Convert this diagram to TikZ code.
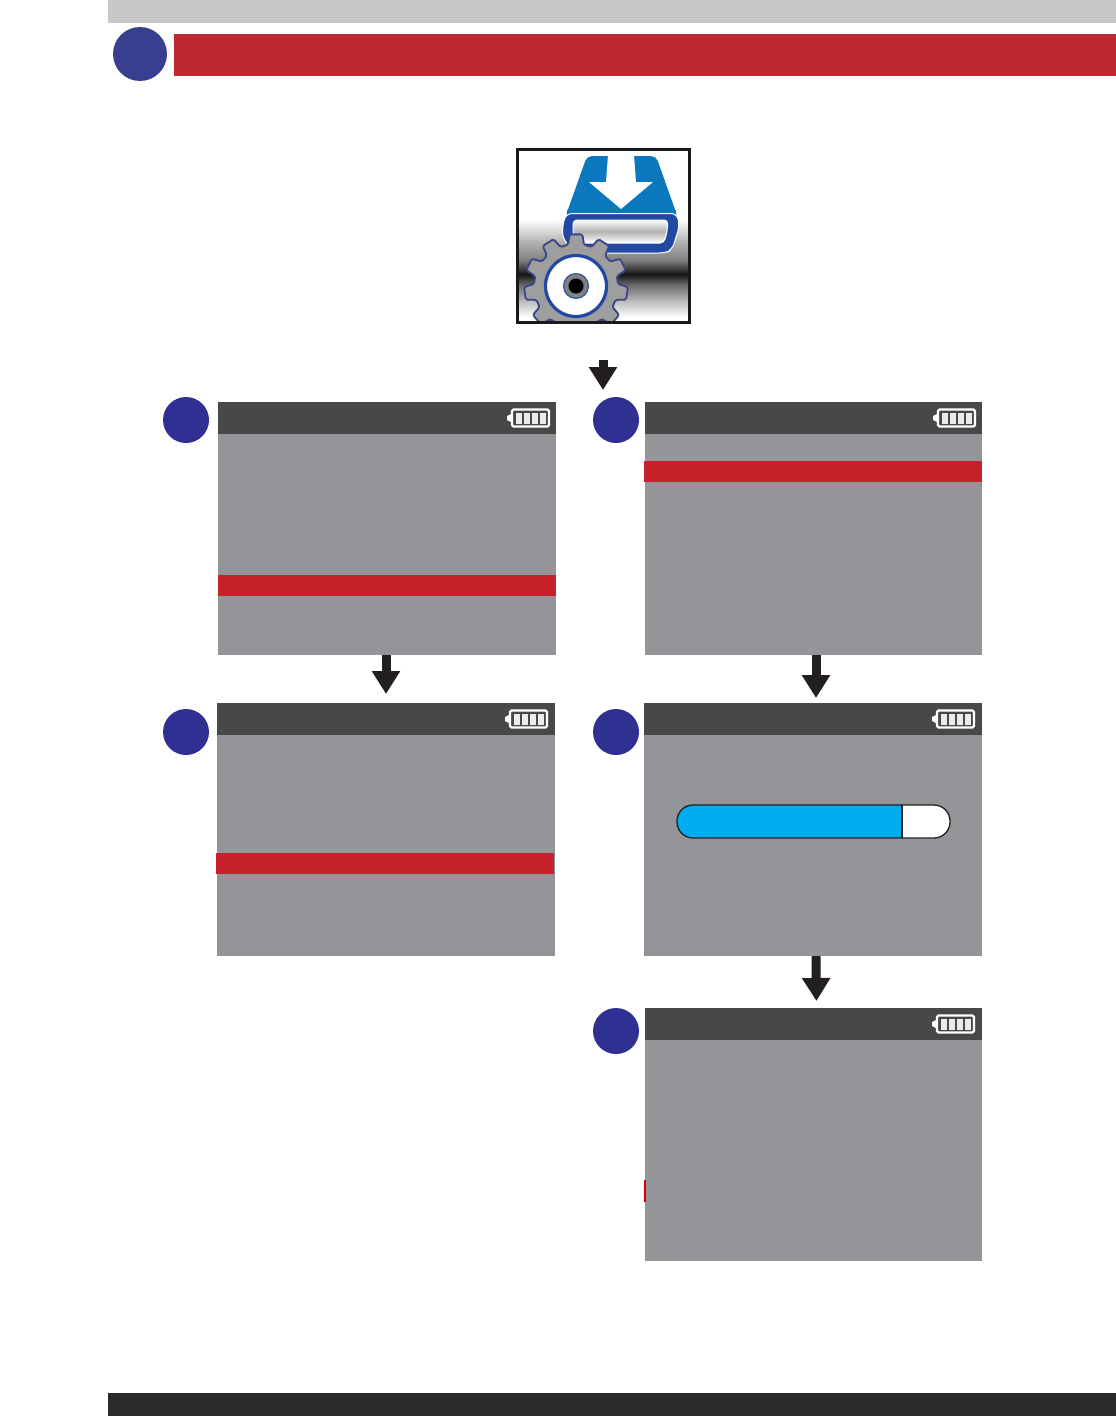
\documentclass[tikz,border=0pt]{standalone}
\usepackage{tikz}
\usetikzlibrary{arrows.meta,shadings}
\definecolor{pageGrey}{HTML}{C8C8C8}
\definecolor{titleRed}{HTML}{BD282E}
\definecolor{titleBlue}{HTML}{393F90}
\definecolor{stepBlue}{HTML}{2E3192}
\definecolor{footBlack}{HTML}{2A2A2B}
\definecolor{screenGrey}{HTML}{949599}
\definecolor{headGrey}{HTML}{474949}
\definecolor{rowRed}{HTML}{C7212C}
\definecolor{arrowBlack}{HTML}{231F20}
\definecolor{barBlue}{HTML}{00AEEF}
\definecolor{iconBlue}{HTML}{0B78BE}
\definecolor{trayBlue}{HTML}{2149A3}
\definecolor{gearEdge}{HTML}{3A4488}
\pgfdeclareradialshading{gearshade}{\pgfpointorigin}{color(0bp)=(black!38); color(30bp)=(black!38); color(50bp)=(black!10)}
\pgfdeclareradialshading{hubshade}{\pgfpointorigin}{color(0bp)=(white); color(22bp)=(white); color(50bp)=(black!40)}
\tikzset{
  screenbox/.style={anchor=north west, fill=screenGrey, minimum width=#1, minimum height=253pt, inner sep=0pt, outer sep=0pt},
  headbar/.style={anchor=north west, fill=headGrey, minimum width=#1, minimum height=32pt, inner sep=0pt, outer sep=0pt},
  rowbar/.style={anchor=north west, fill=rowRed, minimum width=#1, minimum height=21pt, inner sep=0pt, outer sep=0pt},
  stepdot/.style={circle, fill=stepBlue, minimum size=46pt, inner sep=0pt},
  flowarrow/.style={arrowBlack, line width=9pt, -{Triangle[width=27pt,length=23pt]}},
  battery/.pic={
    \draw[white, line width=2.2pt, rounded corners=1.5pt] (-18,-8.5) rectangle (19,8.5);
    \fill[white] (-19,-4) -- (-23,-2) -- (-23,2) -- (-19,4) -- cycle;
    \foreach \c in {-14,-6,2,10}{
      \fill[black!8] (\c,-5.5) rectangle (\c+6,5.5);
    }
  }
}

\begin{document}
\begin{tikzpicture}[x=1pt, y=-1pt]
  \useasboundingbox (0,0) rectangle (1116,1416);
  % page furniture
  \fill[pageGrey] (108,0) rectangle (1116,23);
  \fill[titleRed] (174,34) rectangle (1116,76);
  \fill[footBlack] (108,1393) rectangle (1116,1416);
  \node[circle, fill=titleBlue, minimum size=54pt, inner sep=0pt] (titleDot) at (140,54) {};

  % icon
  \coordinate (iconNW) at (517,149);
  \coordinate (iconSE) at (689,322);
  \begin{scope}
    \clip (iconNW) rectangle (iconSE);
    \fill[white] (iconNW) rectangle (iconSE);
    \foreach \ya/\ca/\yb/\cb in {220/0/240/28,240/28/260/50,260/50/274/92,274/92/284/60,284/60/300/28,300/28/317/0}{
      \shade[top color=black!\ca, bottom color=black!\cb] (517,\ya) rectangle (689,\yb+0.3);
    }
    \fill[iconBlue, rounded corners=5pt] (565,218) -- (587,156) -- (656,156) -- (678,218) -- cycle;
    \fill[white] (608,155) -- (634,155) -- (636,182) -- (653,182) -- (621,209) -- (589,182) -- (606,182) -- cycle;
    \draw[white, line width=1pt, fill=trayBlue, rounded corners=6pt] (566,213.5) -- (562.5,226) -- (562.5,238) -- (575,253) -- (665,253) -- (672,250) -- (679.5,226) -- (677,213.5) -- cycle;
    \fill[iconBlue] (567,210) rectangle (676,213);
    \shade[draw=white, line width=1pt, top color=white, bottom color=white, middle color=black!30, rounded corners=4pt] (573,220) -- (668,220) -- (667,232) -- (664,243) -- (577,243) -- (573,238) -- cycle;
    % gear
    \begin{scope}[shift={(576,286)}]
      \draw[gearEdge, line width=1.8pt, line join=round, rounded corners=1.5pt, shading=gearshade]
        (259:42) \foreach \k in {0,...,10}{
          -- (270+\k*32.727-11:42) -- (270+\k*32.727-7:52) -- (270+\k*32.727+7:52) -- (270+\k*32.727+11:42)
        } -- cycle;
      \draw[trayBlue, line width=3.2pt, shading=hubshade] (0,0) circle (30.5);
      \draw[trayBlue, line width=1pt, fill=black!50] (0,0) circle (12.5);
      \fill[black] (0,0) circle (7.5);
    \end{scope}
  \end{scope}
  \draw[black!90, line width=3pt] (iconNW) rectangle (iconSE);
  \node[inner sep=0pt, outer sep=0pt, minimum width=172pt, minimum height=173pt] (icon) at (603,235.5) {};

  % screens
  \node[screenbox=338pt] (scrA) at (218,402) {};
  \node[screenbox=337pt] (scrB) at (645,402) {};
  \node[screenbox=338pt] (scrC) at (217,703) {};
  \node[screenbox=338pt] (scrD) at (644,703) {};
  \node[screenbox=337pt] (scrE) at (645,1008) {};

  \node[headbar=338pt] (headA) at (218,402) {};
  \node[headbar=337pt] (headB) at (645,402) {};
  \node[headbar=338pt] (headC) at (217,703) {};
  \node[headbar=338pt] (headD) at (644,703) {};
  \node[headbar=337pt] (headE) at (645,1008) {};

  \foreach \x/\y in {530/418,956/418,528/719,955/719,955/1024}{
    \pic at (\x,\y) {battery};
  }

  \node[rowbar=338pt] (rowA) at (218,575) {};
  \node[rowbar=338pt] (rowB) at (644,461) {};
  \node[rowbar=338pt] (rowC) at (216,853) {};
  \node[anchor=north west, fill=red!85!black, minimum width=2pt, minimum height=22pt, inner sep=0pt] (rowE) at (644,1180) {};

  % progress bar
  \fill[white, rounded corners=16pt] (677,805) rectangle (950,838);
  \begin{scope}
    \clip[rounded corners=16pt] (677,805) rectangle (950,838);
    \fill[barBlue] (677,805) rectangle (902,838);
  \end{scope}
  \draw[arrowBlack, line width=1.3pt, rounded corners=16pt] (677,805) rectangle (950,838);
  \draw[arrowBlack, line width=1.3pt] (902,805) -- (902,838);

  % step markers
  \foreach \n/\x/\y in {A/186/420,B/616/420,C/186/732,D/616/732,E/616/1031}{
    \node[stepdot] (dot\n) at (\x,\y) {};
  }

  % arrows
  \coordinate (topEnd) at (603,390);
  \draw[flowarrow, shorten <=38pt] (icon.south) -- (topEnd);
  \draw[flowarrow, shorten >=9pt] ([xshift=-1pt]scrA.south) -- (scrC.north);
  \draw[flowarrow, shorten >=5pt] ([xshift=2.5pt]scrB.south) -- ([xshift=3pt]scrD.north);
  \draw[flowarrow, shorten >=7pt] ([xshift=3pt]scrD.south) -- ([xshift=3pt]scrE.north);
\end{tikzpicture}
\end{document}
